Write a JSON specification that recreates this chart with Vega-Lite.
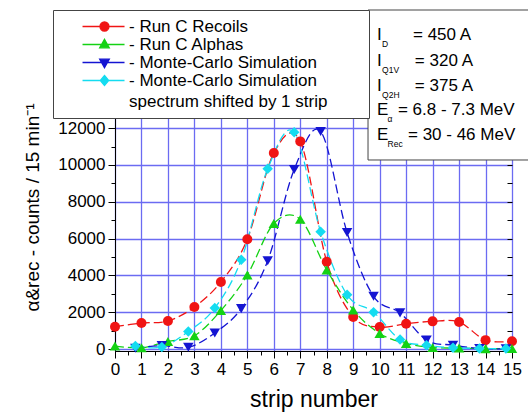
{
  "$schema": "https://vega.github.io/schema/vega-lite/v6.json",
  "width": 397,
  "height": 233,
  "autosize": "none",
  "padding": {"left": 115, "top": 118, "right": 16, "bottom": 62},
  "background": "white",
  "config": {
    "font": "Liberation Sans",
    "view": {"stroke": "black", "strokeWidth": 1},
    "axis": {
      "labelFont": "Liberation Sans", "labelFontSize": 17, "labelColor": "black",
      "titleFont": "Liberation Sans", "titleFontSize": 22, "titleFontWeight": "normal", "titleColor": "black",
      "domainColor": "black", "tickColor": "black", "tickWidth": 1,
      "gridColor": "#6b6bf2", "gridWidth": 1.3, "gridOpacity": 1
    }
  },
  "datasets": {
    "series": [
      {"series": "Run C Recoils", "strip": 0, "counts": 1220},
      {"series": "Run C Recoils", "strip": 1, "counts": 1420},
      {"series": "Run C Recoils", "strip": 2, "counts": 1530},
      {"series": "Run C Recoils", "strip": 3, "counts": 2290},
      {"series": "Run C Recoils", "strip": 4, "counts": 3650},
      {"series": "Run C Recoils", "strip": 5, "counts": 5970},
      {"series": "Run C Recoils", "strip": 6, "counts": 10650},
      {"series": "Run C Recoils", "strip": 7, "counts": 11280},
      {"series": "Run C Recoils", "strip": 8, "counts": 4750},
      {"series": "Run C Recoils", "strip": 9, "counts": 1750},
      {"series": "Run C Recoils", "strip": 10, "counts": 1200},
      {"series": "Run C Recoils", "strip": 11, "counts": 1380},
      {"series": "Run C Recoils", "strip": 12, "counts": 1510},
      {"series": "Run C Recoils", "strip": 13, "counts": 1470},
      {"series": "Run C Recoils", "strip": 14, "counts": 490},
      {"series": "Run C Recoils", "strip": 15, "counts": 430},
      {"series": "Run C Alphas", "strip": 0, "counts": 170},
      {"series": "Run C Alphas", "strip": 1, "counts": 80},
      {"series": "Run C Alphas", "strip": 2, "counts": 420},
      {"series": "Run C Alphas", "strip": 3, "counts": 730},
      {"series": "Run C Alphas", "strip": 4, "counts": 2100},
      {"series": "Run C Alphas", "strip": 5, "counts": 4030},
      {"series": "Run C Alphas", "strip": 6, "counts": 6820},
      {"series": "Run C Alphas", "strip": 7, "counts": 7050},
      {"series": "Run C Alphas", "strip": 8, "counts": 4300},
      {"series": "Run C Alphas", "strip": 9, "counts": 2130},
      {"series": "Run C Alphas", "strip": 10, "counts": 850},
      {"series": "Run C Alphas", "strip": 11, "counts": 310},
      {"series": "Run C Alphas", "strip": 12, "counts": 90},
      {"series": "Run C Alphas", "strip": 13, "counts": 60},
      {"series": "Run C Alphas", "strip": 14, "counts": 30},
      {"series": "Run C Alphas", "strip": 15, "counts": 40},
      {"series": "Monte-Carlo Simulation", "strip": 0.77, "counts": 50},
      {"series": "Monte-Carlo Simulation", "strip": 1.77, "counts": 190},
      {"series": "Monte-Carlo Simulation", "strip": 2.77, "counts": 100},
      {"series": "Monte-Carlo Simulation", "strip": 3.77, "counts": 880},
      {"series": "Monte-Carlo Simulation", "strip": 4.77, "counts": 2200},
      {"series": "Monte-Carlo Simulation", "strip": 5.77, "counts": 4800},
      {"series": "Monte-Carlo Simulation", "strip": 6.77, "counts": 9750},
      {"series": "Monte-Carlo Simulation", "strip": 7.77, "counts": 11820},
      {"series": "Monte-Carlo Simulation", "strip": 8.77, "counts": 6330},
      {"series": "Monte-Carlo Simulation", "strip": 9.77, "counts": 2870},
      {"series": "Monte-Carlo Simulation", "strip": 10.77, "counts": 1970},
      {"series": "Monte-Carlo Simulation", "strip": 11.77, "counts": 490},
      {"series": "Monte-Carlo Simulation", "strip": 12.77, "counts": 215},
      {"series": "Monte-Carlo Simulation", "strip": 13.77, "counts": 40},
      {"series": "Monte-Carlo Simulation", "strip": 14.77, "counts": 20},
      {"series": "Monte-Carlo Simulation shifted", "strip": 0.77, "counts": 170},
      {"series": "Monte-Carlo Simulation shifted", "strip": 1.77, "counts": 120},
      {"series": "Monte-Carlo Simulation shifted", "strip": 2.77, "counts": 960},
      {"series": "Monte-Carlo Simulation shifted", "strip": 3.77, "counts": 2230},
      {"series": "Monte-Carlo Simulation shifted", "strip": 4.77, "counts": 4850},
      {"series": "Monte-Carlo Simulation shifted", "strip": 5.77, "counts": 9790},
      {"series": "Monte-Carlo Simulation shifted", "strip": 6.77, "counts": 11770},
      {"series": "Monte-Carlo Simulation shifted", "strip": 7.77, "counts": 6370},
      {"series": "Monte-Carlo Simulation shifted", "strip": 8.77, "counts": 2950},
      {"series": "Monte-Carlo Simulation shifted", "strip": 9.77, "counts": 2010},
      {"series": "Monte-Carlo Simulation shifted", "strip": 10.77, "counts": 520},
      {"series": "Monte-Carlo Simulation shifted", "strip": 11.77, "counts": 215},
      {"series": "Monte-Carlo Simulation shifted", "strip": 12.77, "counts": 80},
      {"series": "Monte-Carlo Simulation shifted", "strip": 13.77, "counts": 40},
      {"series": "Monte-Carlo Simulation shifted", "strip": 14.77, "counts": 30}
    ],
    "params": [
      {"line": 1, "sym": "I", "sub": "D", "val": "= 450 A"},
      {"line": 2, "sym": "I", "sub": "Q1V", "val": "= 320 A"},
      {"line": 3, "sym": "I", "sub": "Q2H", "val": "= 375 A"},
      {"line": 4, "sym": "E", "sub": "α", "val": "= 6.8 - 7.3 MeV"},
      {"line": 5, "sym": "E", "sub": "Rec", "val": "= 30 - 46 MeV"}
    ]
  },
  "layer": [
    {
      "data": {"name": "series"},
      "encoding": {
        "x": {
          "field": "strip", "type": "quantitative",
          "scale": {"domain": [0, 15], "nice": false, "zero": false},
          "axis": {"title": "strip number", "values": [0,1,2,3,4,5,6,7,8,9,10,11,12,13,14,15], "grid": true, "tickSize": 7, "labelPadding": 3, "labelFlush": false, "titlePadding": 11, "titleFontSize": 23}
        },
        "y": {
          "field": "counts", "type": "quantitative",
          "scale": {"domain": [-100, 12550], "nice": false, "zero": false},
          "axis": {"title": "α&rec - counts / 15 min⁻¹", "values": [0,2000,4000,6000,8000,10000,12000], "grid": true, "tickSize": 7, "labelPadding": 3, "format": "d", "titleFontSize": 19, "titleX": -73, "titleY": 89}
        },
        "color": {
          "field": "series", "type": "nominal",
          "scale": {"domain": ["Run C Recoils", "Run C Alphas", "Monte-Carlo Simulation", "Monte-Carlo Simulation shifted"], "range": ["#f01414", "#14d214", "#1414d2", "#14dcf0"]},
          "legend": {
            "orient": "none", "legendX": -62, "legendY": -108, "title": null,
            "strokeColor": "#444444", "fillColor": "white", "padding": 8,
            "labelFont": "Liberation Sans", "labelFontSize": 17, "labelColor": "black", "labelLimit": 500,
            "symbolSize": 144, "labelOffset": 51, "rowPadding": 0, "labelBaseline": "top",
            "labelExpr": "datum.label == 'Monte-Carlo Simulation shifted' ? ['- Monte-Carlo Simulation', '\u00a0\u00a0spectrum shifted by 1 strip\u00a0\u00a0\u00a0\u00a0\u00a0\u00a0\u00a0\u200b'] : '- ' + datum.label",
            "encode": {
              "symbols": {"update": {
                "shape": {"signal": "datum.value == 'Run C Recoils' ? 'M2.17,0H9.17M5.08,0A0.75,0.75,0,1,0,6.58,0A0.75,0.75,0,1,0,5.08,0Z' : datum.value == 'Run C Alphas' ? 'M2.17,0H9.17M5.83,-0.85L6.63,0.55L5.03,0.55Z' : datum.value == 'Monte-Carlo Simulation' ? 'M2.17,0H9.17M5.83,0.85L6.63,-0.55L5.03,-0.55Z' : 'M2.17,0H9.17M5.83,-0.85L6.53,0L5.83,0.85L5.13,0Z'"},
                "fill": {"signal": "scale('color', datum.value)"},
                "stroke": {"signal": "scale('color', datum.value)"},
                "strokeWidth": {"value": 1.3},
                "strokeDash": {"value": []},
                "opacity": {"value": 1}
              }},
              "labels": {"update": {"dy": {"value": -8}, "lineHeight": {"value": 21}}}
            }
          }
        }
      },
      "layer": [
        {"mark": {"type": "line", "interpolate": "cardinal", "strokeDash": [9, 4], "strokeWidth": 1.3}},
        {"transform": [{"filter": "datum.series == 'Run C Recoils'"}], "mark": {"type": "point", "shape": "circle", "filled": true, "opacity": 1, "size": 100}},
        {"transform": [{"filter": "datum.series == 'Run C Alphas'"}], "mark": {"type": "point", "shape": "triangle-up", "filled": true, "opacity": 1, "size": 110}},
        {"transform": [{"filter": "datum.series == 'Monte-Carlo Simulation'"}], "mark": {"type": "point", "shape": "triangle-down", "filled": true, "opacity": 1, "size": 110}},
        {"transform": [{"filter": "datum.series == 'Monte-Carlo Simulation shifted'"}], "mark": {"type": "point", "shape": "diamond", "filled": true, "opacity": 1, "size": 110}}
      ]
    },
    {
      "data": {"values": []},
      "mark": {"type": "point"},
      "encoding": {
        "x": {"field": "strip", "type": "quantitative", "scale": {"domain": [0, 15], "nice": false, "zero": false},
              "axis": {"orient": "bottom", "values": [0.5,1.5,2.5,3.5,4.5,5.5,6.5,7.5,8.5,9.5,10.5,11.5,12.5,13.5,14.5], "labels": false, "grid": false, "domain": false, "tickSize": 4, "title": null}},
        "y": {"field": "counts", "type": "quantitative", "scale": {"domain": [-100, 12550], "nice": false, "zero": false},
              "axis": {"orient": "left", "values": [1000,3000,5000,7000,9000,11000], "labels": false, "grid": false, "domain": false, "tickSize": 4, "title": null}}
      }
    },
    {
      "data": {"values": []},
      "mark": {"type": "point"},
      "encoding": {
        "x": {"field": "strip", "type": "quantitative", "scale": {"domain": [0, 15], "nice": false, "zero": false}, "axis": null},
        "y": {"field": "counts", "type": "quantitative", "scale": {"domain": [-100, 12550], "nice": false, "zero": false},
              "axis": {"orient": "right", "values": [1000,2000,3000,4000,5000,6000,7000,8000,9000,10000,11000,12000], "labels": false, "grid": false, "domain": false, "tickSize": -5, "title": null}}
      }
    },
    {
      "data": {"values": [{}]},
      "mark": {"type": "rect", "fill": "white", "stroke": "#444444", "strokeWidth": 1},
      "encoding": {
        "x": {"datum": 9.56, "type": "quantitative", "scale": {"domain": [0, 15], "nice": false, "zero": false}, "axis": null},
        "x2": {"datum": 16.1},
        "y": {"datum": 18413, "type": "quantitative", "scale": {"domain": [-100, 12550], "nice": false, "zero": false}, "axis": null},
        "y2": {"datum": 10270}
      }
    },
    {
      "data": {"name": "params"},
      "transform": [{"filter": "datum.line == 1"}],
      "encoding": {"y": {"datum": 17056, "type": "quantitative", "scale": {"domain": [-100, 12550], "nice": false, "zero": false}, "axis": null}},
      "layer": [
        {"mark": {"type": "text", "align": "left", "baseline": "middle", "fontSize": 17, "color": "black"}, "encoding": {"x": {"datum": 9.9, "type": "quantitative", "scale": {"domain": [0, 15], "nice": false, "zero": false}, "axis": null}, "text": {"field": "sym"}}},
        {"mark": {"type": "text", "align": "left", "baseline": "middle", "fontSize": 8.5, "dy": 9, "color": "black"}, "encoding": {"x": {"datum": 10.09, "type": "quantitative", "scale": {"domain": [0, 15], "nice": false, "zero": false}, "axis": null}, "text": {"field": "sub"}}},
        {"mark": {"type": "text", "align": "left", "baseline": "middle", "fontSize": 17, "color": "black"}, "encoding": {"x": {"datum": 11.26, "type": "quantitative", "scale": {"domain": [0, 15], "nice": false, "zero": false}, "axis": null}, "text": {"field": "val"}}}
      ]
    },
    {
      "data": {"name": "params"},
      "transform": [{"filter": "datum.line == 2"}],
      "encoding": {"y": {"datum": 15645, "type": "quantitative", "scale": {"domain": [-100, 12550], "nice": false, "zero": false}, "axis": null}},
      "layer": [
        {"mark": {"type": "text", "align": "left", "baseline": "middle", "fontSize": 17, "color": "black"}, "encoding": {"x": {"datum": 9.9, "type": "quantitative", "scale": {"domain": [0, 15], "nice": false, "zero": false}, "axis": null}, "text": {"field": "sym"}}},
        {"mark": {"type": "text", "align": "left", "baseline": "middle", "fontSize": 8.5, "dy": 9, "color": "black"}, "encoding": {"x": {"datum": 10.09, "type": "quantitative", "scale": {"domain": [0, 15], "nice": false, "zero": false}, "axis": null}, "text": {"field": "sub"}}},
        {"mark": {"type": "text", "align": "left", "baseline": "middle", "fontSize": 17, "color": "black"}, "encoding": {"x": {"datum": 11.33, "type": "quantitative", "scale": {"domain": [0, 15], "nice": false, "zero": false}, "axis": null}, "text": {"field": "val"}}}
      ]
    },
    {
      "data": {"name": "params"},
      "transform": [{"filter": "datum.line == 3"}],
      "encoding": {"y": {"datum": 14287, "type": "quantitative", "scale": {"domain": [-100, 12550], "nice": false, "zero": false}, "axis": null}},
      "layer": [
        {"mark": {"type": "text", "align": "left", "baseline": "middle", "fontSize": 17, "color": "black"}, "encoding": {"x": {"datum": 9.9, "type": "quantitative", "scale": {"domain": [0, 15], "nice": false, "zero": false}, "axis": null}, "text": {"field": "sym"}}},
        {"mark": {"type": "text", "align": "left", "baseline": "middle", "fontSize": 8.5, "dy": 9, "color": "black"}, "encoding": {"x": {"datum": 10.09, "type": "quantitative", "scale": {"domain": [0, 15], "nice": false, "zero": false}, "axis": null}, "text": {"field": "sub"}}},
        {"mark": {"type": "text", "align": "left", "baseline": "middle", "fontSize": 17, "color": "black"}, "encoding": {"x": {"datum": 11.33, "type": "quantitative", "scale": {"domain": [0, 15], "nice": false, "zero": false}, "axis": null}, "text": {"field": "val"}}}
      ]
    },
    {
      "data": {"name": "params"},
      "transform": [{"filter": "datum.line == 4"}],
      "encoding": {"y": {"datum": 12984, "type": "quantitative", "scale": {"domain": [-100, 12550], "nice": false, "zero": false}, "axis": null}},
      "layer": [
        {"mark": {"type": "text", "align": "left", "baseline": "middle", "fontSize": 17, "color": "black"}, "encoding": {"x": {"datum": 9.9, "type": "quantitative", "scale": {"domain": [0, 15], "nice": false, "zero": false}, "axis": null}, "text": {"field": "sym"}}},
        {"mark": {"type": "text", "align": "left", "baseline": "middle", "fontSize": 8.5, "dy": 9, "color": "black"}, "encoding": {"x": {"datum": 10.3, "type": "quantitative", "scale": {"domain": [0, 15], "nice": false, "zero": false}, "axis": null}, "text": {"field": "sub"}}},
        {"mark": {"type": "text", "align": "left", "baseline": "middle", "fontSize": 17, "color": "black"}, "encoding": {"x": {"datum": 10.69, "type": "quantitative", "scale": {"domain": [0, 15], "nice": false, "zero": false}, "axis": null}, "text": {"field": "val"}}}
      ]
    },
    {
      "data": {"name": "params"},
      "transform": [{"filter": "datum.line == 5"}],
      "encoding": {"y": {"datum": 11627, "type": "quantitative", "scale": {"domain": [-100, 12550], "nice": false, "zero": false}, "axis": null}},
      "layer": [
        {"mark": {"type": "text", "align": "left", "baseline": "middle", "fontSize": 17, "color": "black"}, "encoding": {"x": {"datum": 9.9, "type": "quantitative", "scale": {"domain": [0, 15], "nice": false, "zero": false}, "axis": null}, "text": {"field": "sym"}}},
        {"mark": {"type": "text", "align": "left", "baseline": "middle", "fontSize": 8.5, "dy": 9, "color": "black"}, "encoding": {"x": {"datum": 10.3, "type": "quantitative", "scale": {"domain": [0, 15], "nice": false, "zero": false}, "axis": null}, "text": {"field": "sub"}}},
        {"mark": {"type": "text", "align": "left", "baseline": "middle", "fontSize": 17, "color": "black"}, "encoding": {"x": {"datum": 11.07, "type": "quantitative", "scale": {"domain": [0, 15], "nice": false, "zero": false}, "axis": null}, "text": {"field": "val"}}}
      ]
    }
  ],
  "resolve": {"axis": {"x": "independent", "y": "independent"}}
}
